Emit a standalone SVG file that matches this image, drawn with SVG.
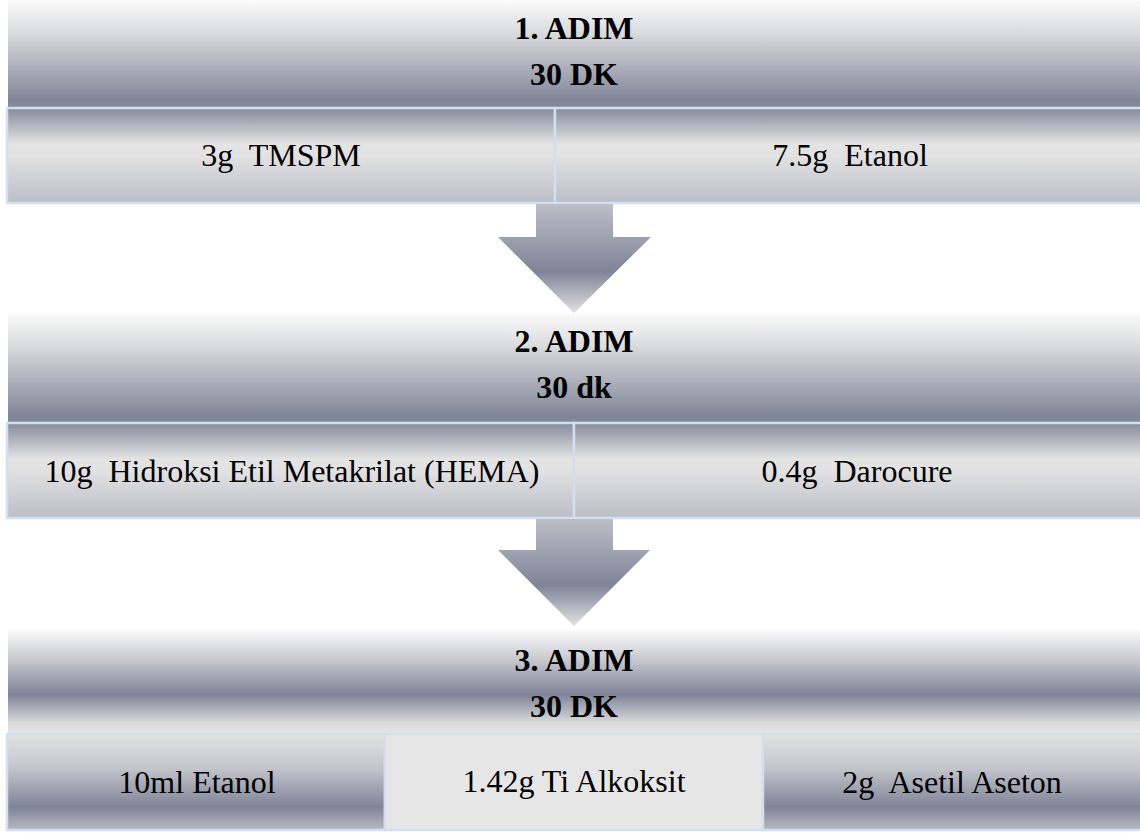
<svg xmlns="http://www.w3.org/2000/svg" width="1140" height="834" viewBox="0 0 1140 834">
  <defs>
    <linearGradient id="gHead" x1="0" y1="0" x2="0" y2="1">
      <stop offset="0" stop-color="#fbfbfb"/>
      <stop offset="0.3" stop-color="#dadbdd"/>
      <stop offset="0.65" stop-color="#a9acb7"/>
      <stop offset="0.94" stop-color="#7f8497"/>
      <stop offset="1" stop-color="#868b9c"/>
    </linearGradient>
    <linearGradient id="gHead3" x1="0" y1="0" x2="0" y2="1">
      <stop offset="0" stop-color="#fbfbfb"/>
      <stop offset="0.3" stop-color="#c4c6cc"/>
      <stop offset="0.62" stop-color="#7f8497"/>
      <stop offset="0.88" stop-color="#d6d7da"/>
      <stop offset="1" stop-color="#e6e6e6"/>
    </linearGradient>
    <linearGradient id="gRow" x1="0" y1="0" x2="0" y2="1">
      <stop offset="0" stop-color="#858a9c"/>
      <stop offset="0.38" stop-color="#e4e4e4"/>
      <stop offset="0.5" stop-color="#e2e2e3"/>
      <stop offset="1" stop-color="#bcbec6"/>
    </linearGradient>
    <linearGradient id="gRow3" x1="0" y1="0" x2="0" y2="1">
      <stop offset="0" stop-color="#e2e2e3"/>
      <stop offset="0.35" stop-color="#c4c6cc"/>
      <stop offset="0.76" stop-color="#7f8497"/>
      <stop offset="1" stop-color="#b8bac2"/>
    </linearGradient>
    <linearGradient id="gArrow" x1="0" y1="0" x2="0" y2="1">
      <stop offset="0" stop-color="#bcbec6"/>
      <stop offset="0.62" stop-color="#7f8497"/>
      <stop offset="1" stop-color="#e2e2e3"/>
    </linearGradient>
    <style>
      .cell { stroke: #d3deef; stroke-width: 2.5; }
      .t { font-size: 32px; fill: #000; text-anchor: middle; }
      .b { font-weight: bold; }
    </style>
  </defs>

  <g font-family="Liberation Serif, DejaVu Serif, serif">
  <g id="step1">
    <rect x="8" y="0" width="1132" height="108" fill="url(#gHead)"/>
    <text class="t b" x="574" y="39">1. ADIM</text>
    <text class="t b" x="574" y="85">30 DK</text>
  </g>
  <g id="step1-tmspm">
    <rect class="cell" x="7" y="108" width="548" height="95" fill="url(#gRow)"/>
    <text class="t" x="281" y="166" xml:space="preserve">3g  TMSPM</text>
  </g>
  <g id="step1-etanol">
    <rect class="cell" x="555" y="108" width="588" height="95" fill="url(#gRow)"/>
    <text class="t" x="850" y="166" xml:space="preserve">7.5g  Etanol</text>
  </g>

  <g id="step2">
    <rect x="8" y="313" width="1132" height="110" fill="url(#gHead)"/>
    <text class="t b" x="574" y="352">2. ADIM</text>
    <text class="t b" x="574" y="398">30 dk</text>
  </g>
  <g id="step2-hema">
    <rect class="cell" x="7" y="423" width="567" height="95" fill="url(#gRow)"/>
    <text class="t" x="292" y="482" xml:space="preserve">10g  Hidroksi Etil Metakrilat (HEMA)</text>
  </g>
  <g id="step2-darocure">
    <rect class="cell" x="574" y="423" width="569" height="95" fill="url(#gRow)"/>
    <text class="t" x="857" y="482" xml:space="preserve">0.4g  Darocure</text>
  </g>

  <g id="step3">
    <rect x="8" y="630" width="1132" height="104" fill="url(#gHead3)"/>
    <text class="t b" x="574" y="671">3. ADIM</text>
    <text class="t b" x="574" y="717">30 DK</text>
  </g>
  <g id="step3-etanol">
    <rect class="cell" x="7" y="734" width="378" height="96" fill="url(#gRow3)"/>
    <text class="t" x="197" y="793">10ml Etanol</text>
  </g>
  <g id="step3-ti">
    <rect class="cell" x="385" y="734" width="378" height="96" fill="#e6e6e6"/>
    <text class="t" x="574" y="792">1.42g Ti Alkoksit</text>
  </g>
  <g id="step3-asetil">
    <rect class="cell" x="763" y="734" width="380" height="96" fill="url(#gRow3)"/>
    <text class="t" x="952" y="793" xml:space="preserve">2g  Asetil Aseton</text>
  </g>
  </g>

  <g id="connectors">
    <polygon points="536,204 613,204 613,237 651,237 574,313 498,237 536,237" fill="url(#gArrow)"/>
    <polygon points="536,519 613,519 613,550 650,550 574,626 498,550 536,550" fill="url(#gArrow)"/>
  </g>
</svg>
